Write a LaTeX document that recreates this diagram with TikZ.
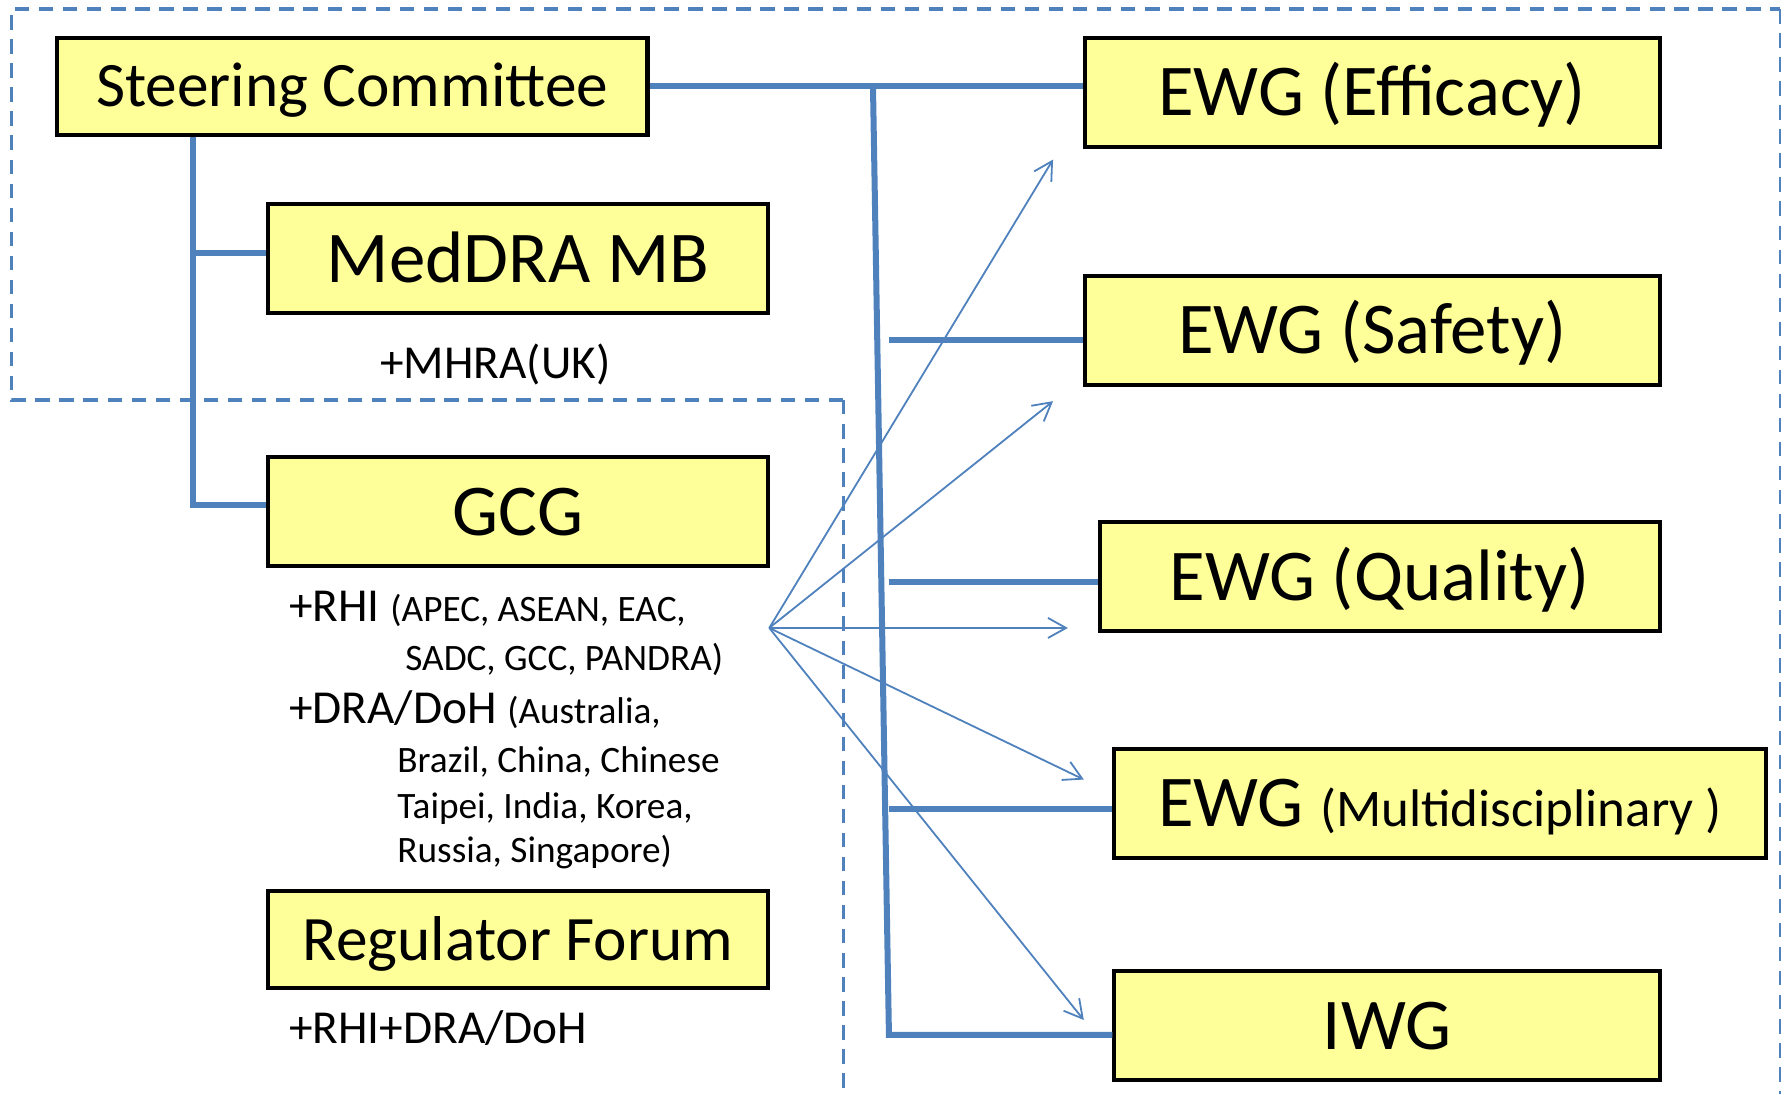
\documentclass[tikz,border=0pt]{standalone}
\usepackage{fontspec}
\setmainfont{Carlito}
\usetikzlibrary{arrows.meta}
\definecolor{ichblue}{RGB}{79,129,189}
\definecolor{ichyellow}{RGB}{255,255,153}
\newcommand{\smalltxt}[1]{{\fontsize{9.3}{11}\selectfont #1}}
\tikzset{
  box/.style={draw=black,line width=1pt,fill=ichyellow,minimum height=0.96cm,inner sep=0pt},
  big/.style={font=\fontsize{18.2}{22}\selectfont,text height=14.56pt,text depth=2.84pt},
  mid/.style={font=\fontsize{15.8}{19}\selectfont,text height=12.64pt,text depth=2.46pt},
  note/.style={anchor=base west,inner sep=0pt,font=\fontsize{11.8}{14}\selectfont},
  link/.style={draw=ichblue,line width=1.5pt},
  feed/.style={draw=ichblue,line width=0.45pt,-{Straight Barb[length=4.5pt,width=5pt]}},
  frame/.style={draw=ichblue,dash pattern=on 3.6pt off 2.4pt}
}
\begin{document}
\begin{tikzpicture}[x=0.01cm,y=-0.01cm]
      \useasboundingbox (0,0) rectangle (1568,960);
      \draw[frame,line width=0.9pt] (740,351) -- (10,351) -- (10,8) -- (1562,8);
      \draw[frame,line width=0.6pt] (740,351) -- (740,960) (1562,8) -- (1562,960);
      \node[box,mid,minimum width=5.18cm,minimum height=0.85cm] (sc) at (309,75.5) {Steering Committee};
      \node[box,big,minimum width=4.39cm] (meddra) at (454.5,227) {MedDRA MB};
      \node[box,big,minimum width=4.39cm] (gcg) at (454.5,449) {GCG};
      \node[box,mid,minimum width=4.39cm,minimum height=0.85cm] (rf) at (454.5,824.5) {Regulator Forum};
      \node[box,big,minimum width=5.04cm] (eff) at (1204,81) {EWG (Efficacy)};
      \node[box,big,minimum width=5.04cm] (saf) at (1204,290) {EWG (Safety)};
      \node[box,big,minimum width=4.91cm] (qual) at (1210.5,506) {EWG (Quality)};
      \node[box,big,minimum width=5.71cm] (multi) at (1263.5,705) {EWG {\fontsize{13.2}{16}\selectfont(Multidisciplinary )}};
      \node[box,big,minimum width=4.78cm] (iwg) at (1217,900) {IWG};
      \node[note] (mhra) at (333,332) {+MHRA(UK)};
      \node[note] (rhi) at (253,545) {+RHI \smalltxt{(APEC, ASEAN, EAC,}};
      \node[note] (rhib) at (355,588) {\smalltxt{SADC, GCC, PANDRA)}};
      \node[note] (dra) at (253,635) {+DRA/DoH \smalltxt{(Australia,}};
      \node[note] (drab) at (348,678) {\smalltxt{Brazil, China, Chinese}};
      \node[note] (drac) at (348,718) {\smalltxt{Taipei, India, Korea,}};
      \node[note] (drad) at (348,757) {\smalltxt{Russia, Singapore)}};
      \node[note] (rfnote) at (253,916) {+RHI+DRA/DoH};
      \coordinate (top) at (766,75.5);
      \coordinate (bot) at (780,908);
      \coordinate (jsaf) at (780,298);
      \coordinate (jqual) at (780,511);
      \coordinate (jmulti) at (780,710);
      \coordinate (lm) at (169,222);
      \coordinate (lg) at (169,443);
      \coordinate (hub) at (675,551);
      \coordinate (teff) at (924,140);
      \coordinate (tsaf) at (924,352);
      \coordinate (tqual) at (937,551);
      \coordinate (tmulti) at (951,684);
      \coordinate (tiwg) at (951,895);
      \begin{scope}[link]
        \draw (sc.east) -- (sc.east -| eff.west);
        \draw (top) -- (bot) -- (bot -| iwg.west);
        \draw (jsaf) -- (jsaf -| saf.west);
        \draw (jqual) -- (jqual -| qual.west);
        \draw (jmulti) -- (jmulti -| multi.west);
        \draw (sc.south -| lg) -- (lg) -- (lg -| gcg.west);
        \draw (lm) -- (lm -| meddra.west);
      \end{scope}
      \begin{scope}[feed]
        \draw (hub) -- (teff);
        \draw (hub) -- (tsaf);
        \draw (hub) -- (tqual);
        \draw (hub) -- (tmulti);
        \draw (hub) -- (tiwg);
      \end{scope}
    \end{tikzpicture}
\end{document}
